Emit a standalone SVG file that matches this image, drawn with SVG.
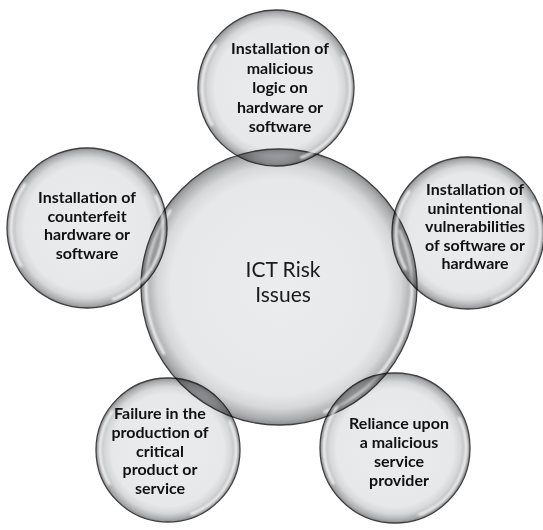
<svg xmlns="http://www.w3.org/2000/svg" width="543" height="530" viewBox="0 0 543 530">
  <style>
    .ball { fill: url(#ballFill); stroke: #3f3f41; stroke-width: 1.3; mix-blend-mode: multiply; }
    .shine { fill: none; stroke: #ffffff; stroke-width: 2.6; stroke-linecap: round; stroke-opacity: 0.9; filter: url(#soft); }
    .label { font-family: Lato, "Open Sans", "Liberation Sans", sans-serif; font-weight: bold; font-size: 16px; fill: #111111; text-anchor: middle; }
    .hub { font-family: Lato, "Open Sans", "Liberation Sans", sans-serif; font-size: 21px; fill: #1a1a1a; text-anchor: middle; }
  </style>
  <defs>
    <radialGradient id="ballFill" cx="0.5" cy="0.5" r="0.5">
      <stop offset="0" stop-color="#ebecee"/>
      <stop offset="0.78" stop-color="#e7e8ea"/>
      <stop offset="0.88" stop-color="#d6d7d9"/>
      <stop offset="0.96" stop-color="#acadaf"/>
      <stop offset="1" stop-color="#8d8d8f"/>
    </radialGradient>
    <filter id="soft" x="-20%" y="-20%" width="140%" height="140%">
      <feGaussianBlur stdDeviation="0.9"/>
    </filter>
  </defs>

  <rect width="543" height="530" fill="#ffffff"/>

  <!-- hub bubble -->
  <g id="node-hub">
    <circle class="ball" cx="279" cy="287" r="138"/>
    <circle class="shine" cx="279" cy="287" r="133" pathLength="360" stroke-dasharray="95 80 65 120" transform="rotate(-25 279 287)"/>
    <text class="hub" x="283" y="277">ICT Risk</text>
    <text class="hub" x="283" y="302">Issues</text>
  </g>

  <!-- satellite bubbles -->
  <g id="node-malicious-logic">
    <circle class="ball" cx="276" cy="88" r="78"/>
    <circle class="shine" cx="276" cy="88" r="74" pathLength="360" stroke-dasharray="95 80 65 120" transform="rotate(-25 276 88)"/>
    <text class="label" x="280" y="54">Installation of</text>
    <text class="label" x="280" y="73.5">malicious</text>
    <text class="label" x="280" y="93">logic on</text>
    <text class="label" x="280" y="112.5">hardware or</text>
    <text class="label" x="280" y="132">software</text>
  </g>

  <g id="node-counterfeit">
    <circle class="ball" cx="87" cy="228" r="80"/>
    <circle class="shine" cx="87" cy="228" r="76" pathLength="360" stroke-dasharray="95 80 65 120" transform="rotate(-25 87 228)"/>
    <text class="label" x="87" y="203">Installation of</text>
    <text class="label" x="87" y="221.5">counterfeit</text>
    <text class="label" x="87" y="240">hardware or</text>
    <text class="label" x="87" y="258.5">software</text>
  </g>

  <g id="node-vulnerabilities">
    <circle class="ball" cx="468" cy="233" r="76"/>
    <circle class="shine" cx="468" cy="233" r="72" pathLength="360" stroke-dasharray="95 80 65 120" transform="rotate(-25 468 233)"/>
    <text class="label" x="475" y="195">Installation of</text>
    <text class="label" x="475" y="213.5">unintentional</text>
    <text class="label" x="475" y="232">vulnerabilities</text>
    <text class="label" x="475" y="250.5">of software or</text>
    <text class="label" x="475" y="269">hardware</text>
  </g>

  <g id="node-production-failure">
    <circle class="ball" cx="168" cy="450" r="72"/>
    <circle class="shine" cx="168" cy="450" r="68" pathLength="360" stroke-dasharray="95 80 65 120" transform="rotate(-25 168 450)"/>
    <text class="label" x="160" y="419">Failure in the</text>
    <text class="label" x="160" y="438">production of</text>
    <text class="label" x="160" y="456.5">critical</text>
    <text class="label" x="160" y="475">product or</text>
    <text class="label" x="160" y="494">service</text>
  </g>

  <g id="node-service-provider">
    <circle class="ball" cx="395" cy="448" r="75"/>
    <circle class="shine" cx="395" cy="448" r="71" pathLength="360" stroke-dasharray="95 80 65 120" transform="rotate(-25 395 448)"/>
    <text class="label" x="399" y="429">Reliance upon</text>
    <text class="label" x="399" y="448">a malicious</text>
    <text class="label" x="399" y="467">service</text>
    <text class="label" x="399" y="486">provider</text>
  </g>

  <!-- no connectors: bubbles touch by overlap -->
  <g id="connectors"/>
</svg>
